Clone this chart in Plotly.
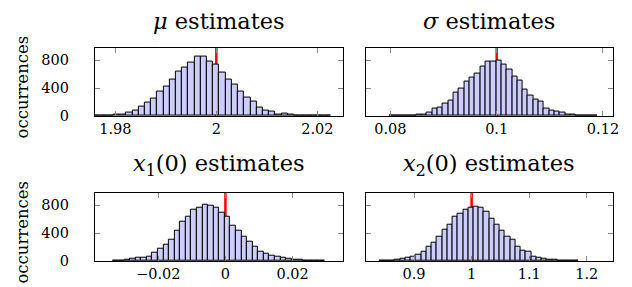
import plotly.graph_objects as go
from plotly.subplots import make_subplots

# ---------------- data ----------------
mu_counts = [4, 6, 10, 25, 26, 50, 80, 140, 190, 246, 350, 414, 525, 637, 693, 767, 846, 846,
             776, 735, 628, 525, 456, 350, 260, 205, 121, 70, 65, 19, 37, 19, 9, 5, 3, 2, 1, 1]
mu_bin_start = 1.9760
mu_bin_width = 0.00123
mu_true = 2.0

sigma_counts = [1, 2, 3, 5, 10, 19, 25, 47, 100, 125, 170, 218, 328, 398, 498, 548, 609, 714,
                786, 786, 792, 742, 665, 560, 502, 384, 286, 235, 205, 105, 77, 65, 42, 25, 14,
                7, 3, 1, 1]
sigma_bin_start = 0.0799
sigma_bin_width = 0.001
sigma_true = 0.1

x1_counts = [2, 5, 18, 35, 44, 50, 68, 120, 177, 237, 299, 432, 571, 631, 743, 761, 808, 792,
             761, 690, 631, 506, 430, 353, 276, 211, 141, 101, 81, 60, 44, 32, 23, 14, 8, 4, 2, 1]
x1_bin_start = -0.0334
x1_bin_width = 0.00166
x1_true = 0.0

x2_counts = [1, 3, 8, 18, 28, 48, 62, 86, 127, 204, 265, 355, 455, 515, 641, 675, 736, 759, 783,
             764, 706, 610, 515, 440, 353, 307, 205, 150, 130, 62, 42, 28, 23, 14, 9, 5, 2, 1]
x2_bin_start = 0.8396
x2_bin_width = 0.0091
x2_true = 1.0

titles = ["<i>μ</i> estimates", "<i>σ</i> estimates",
          "<i>x</i><sub>1</sub>(0) estimates", "<i>x</i><sub>2</sub>(0) estimates"]
x_ranges = [[1.97595, 2.0251], [0.07534, 0.12192], [-0.03888, 0.03504], [0.8158, 1.2459]]
x_tickvals = [[1.98, 2.0, 2.02], [0.08, 0.1, 0.12], [-0.02, 0.0, 0.02], [0.9, 1.0, 1.1, 1.2]]
x_ticktext = [["1.98", "2", "2.02"], ["0.08", "0.1", "0.12"], ["−0.02", "0", "0.02"],
              ["0.9", "1", "1.1", "1.2"]]
y_tickvals = [0, 400, 800]
y_ticktext = ["0", "400", "800"]
y_range = [0, 980]
y_label = "occurrences"

panels = [
    (mu_counts, mu_bin_start, mu_bin_width, mu_true),
    (sigma_counts, sigma_bin_start, sigma_bin_width, sigma_true),
    (x1_counts, x1_bin_start, x1_bin_width, x1_true),
    (x2_counts, x2_bin_start, x2_bin_width, x2_true),
]

# ---------------- figure ----------------
W, H = 632, 287
FONT = "'DejaVu Serif', 'Liberation Serif', serif"

fig = make_subplots(rows=2, cols=2)

x_dom = [[87.7 / W, 338.3 / W], [361 / W, 611 / W]]
y_dom = [[1 - 111 / H, 1 - 40.7 / H], [1 - 260.3 / H, 1 - 190 / H]]

for i, (counts, start, width, truth) in enumerate(panels):
    r, c = i // 2 + 1, i % 2 + 1
    centers = [start + width * (k + 0.5) for k in range(len(counts))]
    fig.add_trace(go.Bar(x=centers, y=counts, width=[width] * len(counts),
                         marker=dict(color="rgb(204,204,255)",
                                     line=dict(color="black", width=1)),
                         showlegend=False), row=r, col=c)
    ax = "" if i == 0 else str(i + 1)
    fig.add_shape(type="line", x0=truth, x1=truth, y0=y_range[0], y1=y_range[1],
                  xref="x" + ax, yref="y" + ax, layer="below",
                  line=dict(color="#ff0000", width=2.5))
    fig.update_xaxes(domain=x_dom[c - 1], range=x_ranges[i], tickvals=x_tickvals[i],
                     ticktext=x_ticktext[i], row=r, col=c)
    fig.update_yaxes(domain=y_dom[r - 1], range=y_range, tickvals=y_tickvals,
                     ticktext=y_ticktext, showticklabels=(c == 1), row=r, col=c)
    fig.add_annotation(text=titles[i], x=(x_dom[c - 1][0] + x_dom[c - 1][1]) / 2,
                       y=1 - (13 if r == 1 else 161) / H, xref="paper", yref="paper",
                       showarrow=False, font=dict(size=22.5, family=FONT, color="black"),
                       xanchor="center", yanchor="middle")

for r in (1, 2):
    fig.add_annotation(text=y_label, x=15 / W, y=(y_dom[r - 1][0] + y_dom[r - 1][1]) / 2 - 5 / H,
                       xref="paper", yref="paper", showarrow=False, textangle=-90,
                       font=dict(size=16.5, family=FONT, color="black"),
                       xanchor="center", yanchor="middle")

fig.update_xaxes(showline=True, linecolor="black", linewidth=1, mirror="allticks",
                 ticks="inside", ticklen=5, tickcolor="#888888", showgrid=False,
                 zeroline=False, tickfont=dict(size=14.5, family=FONT, color="black"))
fig.update_yaxes(showline=True, linecolor="black", linewidth=1, mirror="allticks",
                 ticks="inside", ticklen=5, tickcolor="#888888", showgrid=False,
                 zeroline=False, tickfont=dict(size=14.5, family=FONT, color="black"),
                 ticklabelstandoff=22)

fig.update_layout(width=W, height=H, margin=dict(l=0, r=0, t=0, b=0),
                  paper_bgcolor="white", plot_bgcolor="white", bargap=0,
                  font=dict(family=FONT, color="black"))

fig.write_html("out.html")
